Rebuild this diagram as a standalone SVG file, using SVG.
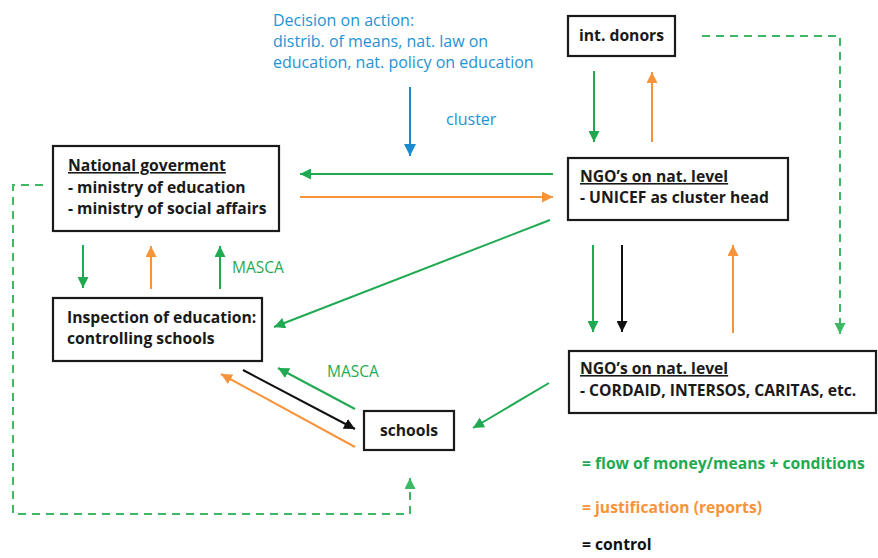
<svg xmlns="http://www.w3.org/2000/svg" width="878" height="558" viewBox="0 0 878 558">
<style>
.box{fill:#fff;stroke:#1a1a1a;stroke-width:2.2}
.t{font-family:"Open Sans",Lato,"Liberation Sans",sans-serif;font-size:15.7px;font-weight:700;fill:#1a1a1a}
.u{text-decoration:underline}
.blue{font-family:"Open Sans",Lato,"Liberation Sans",sans-serif;font-size:16px;fill:#2593d3}
.lg{font-family:"Open Sans",Lato,"Liberation Sans",sans-serif;font-size:15.7px;font-weight:700}
.ms{font-family:"Open Sans",Lato,"Liberation Sans",sans-serif;font-size:15.5px;font-weight:400;fill:#1faa52}
.g{stroke:#1faa52;stroke-width:2;fill:none}
.o{stroke:#f7943a;stroke-width:2;fill:none}
.k{stroke:#111;stroke-width:2;fill:none}
.b{stroke:#1a8bd0;stroke-width:2;fill:none}
.d{stroke:#3db865;stroke-width:2;fill:none;stroke-dasharray:8,6}
</style>
<defs>
<marker id="ag" viewBox="0 0 10 10" refX="10" refY="5" markerWidth="11" markerHeight="11" markerUnits="userSpaceOnUse" orient="auto"><path d="M0,0 L10,5 L0,10 z" fill="#1faa52"/></marker>
<marker id="ao" viewBox="0 0 10 10" refX="10" refY="5" markerWidth="11" markerHeight="11" markerUnits="userSpaceOnUse" orient="auto"><path d="M0,0 L10,5 L0,10 z" fill="#f7943a"/></marker>
<marker id="ak" viewBox="0 0 10 10" refX="10" refY="5" markerWidth="11" markerHeight="11" markerUnits="userSpaceOnUse" orient="auto"><path d="M0,0 L10,5 L0,10 z" fill="#111"/></marker>
<marker id="ab" viewBox="0 0 10 10" refX="10" refY="5" markerWidth="12" markerHeight="12" markerUnits="userSpaceOnUse" orient="auto"><path d="M0,0 L10,5 L0,10 z" fill="#1a8bd0"/></marker>
<marker id="ad" viewBox="0 0 10 10" refX="10" refY="5" markerWidth="11" markerHeight="11" markerUnits="userSpaceOnUse" orient="auto"><path d="M0,0 L10,5 L0,10 z" fill="#3db865"/></marker>
</defs>

<g id="connectors">
<line class="b" x1="410" y1="87" x2="410" y2="156" marker-end="url(#ab)"/>
<line class="g" x1="594" y1="71" x2="594" y2="142" marker-end="url(#ag)"/>
<line class="o" x1="652" y1="142" x2="652" y2="72" marker-end="url(#ao)"/>
<line class="g" x1="553" y1="174" x2="300" y2="174" marker-end="url(#ag)"/>
<line class="o" x1="300" y1="197" x2="553" y2="197" marker-end="url(#ao)"/>
<line class="g" x1="550" y1="220" x2="274" y2="327" marker-end="url(#ag)"/>
<line class="g" x1="83" y1="245" x2="83" y2="288" marker-end="url(#ag)"/>
<line class="o" x1="151" y1="289" x2="151" y2="246" marker-end="url(#ao)"/>
<line class="g" x1="220" y1="289" x2="220" y2="246" marker-end="url(#ag)"/>
<line class="g" x1="593" y1="245" x2="593" y2="332" marker-end="url(#ag)"/>
<line class="k" x1="622" y1="245" x2="622" y2="332" marker-end="url(#ak)"/>
<line class="o" x1="733" y1="333" x2="733" y2="245" marker-end="url(#ao)"/>
<polyline class="d" points="702,36 840,36 840,334" marker-end="url(#ad)"/>
<polyline class="d" points="43,185 13,185 13,514 410,514 410,478" marker-end="url(#ad)"/>
<line class="k" x1="243" y1="370" x2="355" y2="429" marker-end="url(#ak)"/>
<line class="g" x1="355" y1="409" x2="278" y2="368" marker-end="url(#ag)"/>
<line class="o" x1="355" y1="447" x2="221" y2="374" marker-end="url(#ao)"/>
<line class="g" x1="549" y1="383" x2="473" y2="428" marker-end="url(#ag)"/>
</g>

<g id="decision">
<text class="blue" x="273" y="26">Decision on action:</text>
<text class="blue" x="273" y="47">distrib. of means, nat. law on</text>
<text class="blue" x="273" y="68">education, nat. policy on education</text>
<text class="blue" x="446" y="125">cluster</text>
</g>

<g id="donors">
<rect class="box" x="568" y="16" width="107" height="40"/>
<text class="t" x="579" y="41">int. donors</text>
</g>

<g id="government">
<rect class="box" x="53" y="146" width="226" height="85"/>
<text class="t u" x="68" y="171">National goverment</text>
<text class="t" x="68" y="193">- ministry of education</text>
<text class="t" x="68" y="214">- ministry of social affairs</text>
</g>

<g id="unicef">
<rect class="box" x="568" y="158" width="220" height="62"/>
<text class="t u" x="580" y="182">NGO’s on nat. level</text>
<text class="t" x="580" y="203">- UNICEF as cluster head</text>
</g>

<g id="inspection">
<rect class="box" x="53" y="298" width="209" height="63"/>
<text class="t" x="67" y="323">Inspection of education:</text>
<text class="t" x="67" y="344">controlling schools</text>
</g>

<g id="masca-labels">
<text class="ms" x="232" y="273">MASCA</text>
<text class="ms" x="327" y="377">MASCA</text>
</g>

<g id="schools">
<rect class="box" x="364" y="411" width="90" height="39"/>
<text class="t" x="409" y="436" text-anchor="middle">schools</text>
</g>

<g id="ngo-local">
<rect class="box" x="569" y="351" width="307" height="62"/>
<text class="t u" x="580" y="374">NGO’s on nat. level</text>
<text class="t" x="580" y="396">- CORDAID, INTERSOS, CARITAS, etc.</text>
</g>

<g id="legend">
<text class="lg" x="582" y="469" fill="#1faa52">= flow of money/means + conditions</text>
<text class="lg" x="582" y="513" fill="#f7943a">= justification (reports)</text>
<text class="lg" x="582" y="550" fill="#111">= control</text>
</g>
</svg>
